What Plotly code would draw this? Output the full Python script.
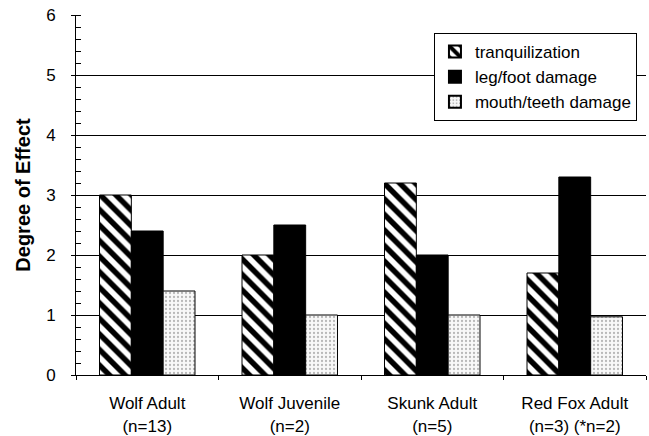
import plotly.graph_objects as go

categories = ["Wolf Adult<br>(n=13)", "Wolf Juvenile<br>(n=2)", "Skunk Adult<br>(n=5)", "Red Fox Adult<br>(n=3) (*n=2)"]
tranquilization = [3.0, 2.0, 3.2, 1.7]
leg_foot = [2.4, 2.5, 2.0, 3.3]
mouth_teeth = [1.4, 1.0, 1.0, 0.97]
y_ticks = [0, 1, 2, 3, 4, 5, 6]

fig = go.Figure()
fig.add_trace(go.Bar(
    x=categories, y=tranquilization, name="tranquilization",
    marker=dict(color="white", line=dict(color="black", width=1),
                pattern=dict(shape="\\", fgcolor="black", bgcolor="white", size=11, solidity=0.5, fgopacity=1)),
))
fig.add_trace(go.Bar(
    x=categories, y=leg_foot, name="leg/foot damage",
    marker=dict(color="black", line=dict(color="black", width=1)),
))
fig.add_trace(go.Bar(
    x=categories, y=mouth_teeth, name="mouth/teeth damage",
    marker=dict(color="#f6f6f6", line=dict(color="black", width=1),
                pattern=dict(shape=".", fgcolor="#777777", bgcolor="#f8f8f8", size=4, solidity=0.25)),
))

fig.update_layout(
    width=649, height=436,
    margin=dict(l=76, r=3, t=15, b=61),
    paper_bgcolor="white", plot_bgcolor="white",
    barmode="group", bargap=0.33, bargroupgap=0,
    font=dict(family="Arial, Liberation Sans, sans-serif", color="black", size=16),
    legend=dict(x=0.628, y=0.95, xanchor="left", yanchor="top",
                bordercolor="black", borderwidth=1, bgcolor="white",
                font=dict(size=17), tracegroupgap=0, itemwidth=30,
                itemsizing="constant"),
    showlegend=True,
)
fig.update_xaxes(
    showline=True, linecolor="black", linewidth=1,
    ticks="outside", tickson="boundaries", ticklen=4, tickcolor="black",
    tickfont=dict(size=17), showgrid=False, automargin=False,
    ticklabelstandoff=13,
)
fig.update_yaxes(
    range=[0, 6], tickvals=y_ticks, ticktext=[str(v) for v in y_ticks],
    showline=True, linecolor="black", linewidth=1,
    ticks="outside", ticklen=4, tickcolor="black",
    minor=dict(ticks="inside", dtick=0.2, ticklen=5, tickcolor="black", showgrid=False),
    showgrid=True, gridcolor="black", gridwidth=1,
    tickfont=dict(size=17), ticklabelstandoff=12,
    title=dict(text="<b>Degree of Effect</b>", font=dict(size=20), standoff=10),
    zeroline=False, automargin=False,
)

fig.write_html(
    "out.html",
    config={"displayModeBar": False},
    post_script="document.body.style.margin='0';document.body.style.overflow='hidden';",
)
